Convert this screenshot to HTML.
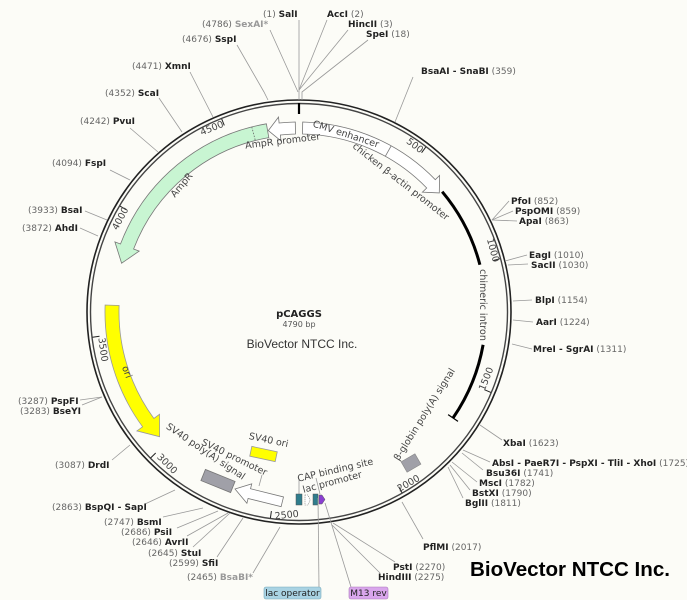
<!DOCTYPE html>
<html><head><meta charset="utf-8"><style>
html,body{margin:0;padding:0;background:#fcfcf7;}
svg{display:block;}
text{font-family:"DejaVu Sans","Liberation Sans",sans-serif;font-size:9px;fill:#222;}
.b{font-weight:bold;}
.n{fill:#666;font-weight:normal;}
.g{fill:#999;}
.f{font-size:9.5px;fill:#444;}
.ln{stroke:#999;stroke-width:0.8;fill:none;}
</style></head><body>
<svg width="687" height="600" viewBox="0 0 687 600" xmlns="http://www.w3.org/2000/svg">
<rect width="687" height="600" fill="#fcfcf7"/>
<circle cx="299" cy="312" r="212" fill="none" stroke="#222" stroke-width="1.6"/>
<circle cx="299" cy="312" r="208.5" fill="none" stroke="#444" stroke-width="1.4"/>
<line x1="299" y1="103" x2="299" y2="114" stroke="#000" stroke-width="2.2"/>

<g stroke="#222" stroke-width="1">
<line x1="425.8" y1="147.1" x2="421.6" y2="152.7"/>
<line x1="500" y1="258.7" x2="493.3" y2="260.5"/>
<line x1="490.9" y1="392.4" x2="484.4" y2="389.7"/>
<line x1="402" y1="492.7" x2="398.6" y2="486.6"/>
<line x1="270.4" y1="518" x2="271.4" y2="511.1"/>
<line x1="150.7" y1="457.9" x2="155.7" y2="453"/>
<line x1="92.5" y1="337.2" x2="99.5" y2="336.3"/>
<line x1="120" y1="206.1" x2="126" y2="209.7"/>
<line x1="221.7" y1="118.9" x2="224.3" y2="125.4"/>
</g>
<g class="f">
<text transform="translate(413,148) rotate(37)" text-anchor="middle" class="f">500</text>
<text transform="translate(490,251) rotate(75)" text-anchor="middle" class="f">1000</text>
<text transform="translate(489,380) rotate(-68)" text-anchor="middle" class="f">1500</text>
<text transform="translate(410,486) rotate(-30)" text-anchor="middle" class="f">2000</text>
<text transform="translate(287,518) rotate(-6)" text-anchor="middle" class="f">2500</text>
<text transform="translate(165,466) rotate(45)" text-anchor="middle" class="f">3000</text>
<text transform="translate(100,350) rotate(82)" text-anchor="middle" class="f">3500</text>
<text transform="translate(123,220) rotate(-62)" text-anchor="middle" class="f">4000</text>
<text transform="translate(213,131) rotate(-22)" text-anchor="middle" class="f">4500</text>
</g>

<path d="M266.4 123.8 A191 191 0 0 0 120.5 244 L114.9 241.9 L121.6 263.2 L139.2 251.1 L133.6 249 A177 177 0 0 1 268.8 137.6 Z" fill="#c8f5d2" stroke="#777" stroke-width="0.8"/>
<line x1="251.8" y1="126.9" x2="255.3" y2="140.5" stroke="#666" stroke-width="0.8" stroke-dasharray="1.5,1.5"/>
<path d="M295.3 122 A190 190 0 0 0 279.1 123 L278.5 117.1 L268.3 130.6 L281 140.9 L280.4 135 A178 178 0 0 1 295.5 134 Z" fill="#fff" stroke="#777" stroke-width="0.8"/>
<path d="M302.7 122 A190 190 0 0 1 435.3 179.7 L439.6 175.5 L439.3 192.9 L422.4 192.2 L426.7 188 A178 178 0 0 0 302.5 134 Z" fill="#fff" stroke="#777" stroke-width="0.8"/>
<line x1="391.2" y1="145.8" x2="385.3" y2="156.3" stroke="#777" stroke-width="0.8"/>
<path d="M442.2 191.7 A187 187 0 0 1 479.9 264.8" fill="none" stroke="#000" stroke-width="3"/>
<path d="M483.1 344.8 A187 187 0 0 1 453 418" fill="none" stroke="#000" stroke-width="3"/>
<line x1="448.1" y1="414.6" x2="458" y2="421.4" stroke="#000" stroke-width="1.2"/>
<path d="M105.1 305 A194 194 0 0 0 142.6 426.8 L136.9 430.9 L159.6 436.7 L159.5 414.3 L153.9 418.5 A180 180 0 0 1 119.1 305.5 Z" fill="#ffff00" stroke="#999" stroke-width="0.8"/>
<rect x="-8" y="-6" width="16" height="12" transform="translate(411,463) rotate(-30)" fill="#a0a0a8" stroke="#888" stroke-width="0.6"/>
<rect x="-13" y="-5" width="26" height="10" transform="translate(263.5,454) rotate(12)" fill="#ffff00" stroke="#999" stroke-width="0.8"/>
<rect x="-16" y="-6" width="32" height="12" transform="translate(218,481) rotate(22)" fill="#a0a0a8" stroke="#777" stroke-width="0.8"/>
<path d="M0 0 L15 -9 L15 -4 L49 -4 L49 6 L15 6 L15 11 Z" transform="translate(235,489) rotate(14)" fill="#fff" stroke="#777" stroke-width="0.8"/>
<line x1="262" y1="475" x2="259" y2="486" class="ln"/>
<line x1="299" y1="480" x2="299" y2="494" class="ln"/>
<line x1="316" y1="478" x2="320" y2="494" class="ln"/>
<rect x="296" y="494" width="6" height="11" fill="#2f7d8c" stroke="#555" stroke-width="0.5"/>
<path d="M305 495 L308 495 L310 500 L308 505 L305 505 Z" fill="#fff" stroke="#666" stroke-width="0.6" stroke-dasharray="1,1"/>
<rect x="313" y="494" width="5" height="11" fill="#2f7d8c" stroke="#555" stroke-width="0.5"/>
<path d="M319 495 L322 495 L325 499.5 L322 504 L319 504 Z" fill="#8a3fd1" stroke="#555" stroke-width="0.5"/>

<g class="f">
<text transform="translate(283,144) rotate(-7)" text-anchor="middle" class="f">AmpR promoter</text>
<text transform="translate(184,187) rotate(-50)" text-anchor="middle" class="f">AmpR</text>
<text transform="translate(345,137) rotate(18)" text-anchor="middle" class="f">CMV enhancer</text>
<text transform="translate(399,184) rotate(38)" text-anchor="middle" class="f">chicken β-actin promoter</text>
<text transform="translate(480,305) rotate(90)" text-anchor="middle" class="f">chimeric intron</text>
<text transform="translate(427,416) rotate(-58)" text-anchor="middle" class="f">β-globin poly(A) signal</text>
<text transform="translate(124,373) rotate(70)" text-anchor="middle" class="f">ori</text>
<text transform="translate(204,454) rotate(34)" text-anchor="middle" class="f">SV40 poly(A) signal</text>
<text transform="translate(233,460) rotate(26)" text-anchor="middle" class="f">SV40 promoter</text>
<text transform="translate(268,443) rotate(12)" text-anchor="middle" class="f">SV40 ori</text>
<text transform="translate(336,473) rotate(-13)" text-anchor="middle" class="f">CAP binding site</text>
<text transform="translate(333,485) rotate(-15)" text-anchor="middle" class="f">lac promoter</text>
</g>

<text x="299" y="317" text-anchor="middle" class="b" style="font-size:10px">pCAGGS</text>
<text x="299" y="327" text-anchor="middle" style="font-size:8px;fill:#555">4790 bp</text>
<text x="302" y="348" text-anchor="middle" style="font-family:'Liberation Sans',sans-serif;font-size:12px;fill:#333">BioVector NTCC Inc.</text>
<text x="470" y="576" style="font-family:'Liberation Sans',sans-serif;font-size:20.5px;font-weight:bold;fill:#000" textLength="200" lengthAdjust="spacingAndGlyphs">BioVector NTCC Inc.</text>

<g class="ln">
<path d="M299 100 L299 90 L299 20"/>
<path d="M299 90 L327 20"/>
<path d="M299 90 L348 30"/>
<path d="M302 100 L302 92 L368 40"/>
<path d="M298 92 L270 30"/>
<path d="M268 100 L264 92 L237 45"/>
<path d="M213 117 L190 72"/>
<path d="M182 132 L159 98"/>
<path d="M158 152 L130 128"/>
<path d="M130 180 L110 170"/>
<path d="M107 220 L85 211"/>
<path d="M98 236 L80 228"/>
<path d="M102 397 L80 400"/>
<path d="M102 397 L82 405"/>
<path d="M130 445 L112 460"/>
<path d="M175 490 L145 504"/>
<path d="M203 508 L163 517"/>
<path d="M218 511 L177 528"/>
<path d="M228 513 L187 536"/>
<path d="M230 513 L193 547"/>
<path d="M243 518 L217 557"/>
<path d="M280 527 L253 573"/>
<path d="M318 498 L319 587"/>
<path d="M325 503 L351 587"/>
<path d="M333 523 L395 562"/>
<path d="M332 525 L380 573"/>
<path d="M402 502 L423 539"/>
<path d="M480 425 L502 440"/>
<path d="M463 450 L490 462"/>
<path d="M462 453 L483 470"/>
<path d="M452 462 L477 482"/>
<path d="M450 465 L470 490"/>
<path d="M448 467 L463 498"/>
<path d="M492 220 L509 201"/>
<path d="M492 220 L513 211"/>
<path d="M492 220 L517 221"/>
<path d="M505 261 L527 255"/>
<path d="M508 265 L528 264"/>
<path d="M513 301 L532 300"/>
<path d="M513 320 L533 322"/>
<path d="M512 344 L532 349"/>
<path d="M395 122 L413 77"/>
</g>

<text x="263" y="17"><tspan class="n">(1)</tspan> <tspan class="b">SalI</tspan></text>
<text x="327" y="17"><tspan class="b">AccI</tspan> <tspan class="n">(2)</tspan></text>
<text x="348" y="27"><tspan class="b">HincII</tspan> <tspan class="n">(3)</tspan></text>
<text x="366" y="37"><tspan class="b">SpeI</tspan> <tspan class="n">(18)</tspan></text>
<text x="202" y="27"><tspan class="n">(4786)</tspan> <tspan class="b g">SexAI*</tspan></text>
<text x="182" y="42"><tspan class="n">(4676)</tspan> <tspan class="b">SspI</tspan></text>
<text x="132" y="69"><tspan class="n">(4471)</tspan> <tspan class="b">XmnI</tspan></text>
<text x="105" y="96"><tspan class="n">(4352)</tspan> <tspan class="b">ScaI</tspan></text>
<text x="80" y="124"><tspan class="n">(4242)</tspan> <tspan class="b">PvuI</tspan></text>
<text x="52" y="166"><tspan class="n">(4094)</tspan> <tspan class="b">FspI</tspan></text>
<text x="28" y="213"><tspan class="n">(3933)</tspan> <tspan class="b">BsaI</tspan></text>
<text x="22" y="231"><tspan class="n">(3872)</tspan> <tspan class="b">AhdI</tspan></text>
<text x="18" y="404"><tspan class="n">(3287)</tspan> <tspan class="b">PspFI</tspan></text>
<text x="20" y="414"><tspan class="n">(3283)</tspan> <tspan class="b">BseYI</tspan></text>
<text x="55" y="468"><tspan class="n">(3087)</tspan> <tspan class="b">DrdI</tspan></text>
<text x="52" y="510"><tspan class="n">(2863)</tspan> <tspan class="b">BspQI - SapI</tspan></text>
<text x="104" y="525"><tspan class="n">(2747)</tspan> <tspan class="b">BsmI</tspan></text>
<text x="121" y="535"><tspan class="n">(2686)</tspan> <tspan class="b">PsiI</tspan></text>
<text x="132" y="545"><tspan class="n">(2646)</tspan> <tspan class="b">AvrII</tspan></text>
<text x="148" y="556"><tspan class="n">(2645)</tspan> <tspan class="b">StuI</tspan></text>
<text x="169" y="566"><tspan class="n">(2599)</tspan> <tspan class="b">SfiI</tspan></text>
<text x="187" y="580"><tspan class="n">(2465)</tspan> <tspan class="b g">BsaBI*</tspan></text>
<rect x="264" y="587" width="57" height="12" rx="2" fill="#a9d3e3" stroke="#7ab" stroke-width="0.6"/>
<text x="292.5" y="596" text-anchor="middle" style="fill:#222">lac operator</text>
<rect x="349" y="587" width="39" height="12" rx="2" fill="#d9a6ec" stroke="#a7b" stroke-width="0.6"/>
<text x="368.5" y="596" text-anchor="middle" style="fill:#222">M13 rev</text>
<text x="393" y="570"><tspan class="b">PstI</tspan> <tspan class="n">(2270)</tspan></text>
<text x="378" y="580"><tspan class="b">HindIII</tspan> <tspan class="n">(2275)</tspan></text>
<text x="423" y="550"><tspan class="b">PflMI</tspan> <tspan class="n">(2017)</tspan></text>
<text x="503" y="446"><tspan class="b">XbaI</tspan> <tspan class="n">(1623)</tspan></text>
<text x="492" y="466"><tspan class="b">AbsI - PaeR7I - PspXI - TliI - XhoI</tspan> <tspan class="n">(1725)</tspan></text>
<text x="486" y="476"><tspan class="b">Bsu36I</tspan> <tspan class="n">(1741)</tspan></text>
<text x="479" y="486"><tspan class="b">MscI</tspan> <tspan class="n">(1782)</tspan></text>
<text x="472" y="496"><tspan class="b">BstXI</tspan> <tspan class="n">(1790)</tspan></text>
<text x="465" y="506"><tspan class="b">BglII</tspan> <tspan class="n">(1811)</tspan></text>
<text x="511" y="204"><tspan class="b">PfoI</tspan> <tspan class="n">(852)</tspan></text>
<text x="515" y="214"><tspan class="b">PspOMI</tspan> <tspan class="n">(859)</tspan></text>
<text x="519" y="224"><tspan class="b">ApaI</tspan> <tspan class="n">(863)</tspan></text>
<text x="529" y="258"><tspan class="b">EagI</tspan> <tspan class="n">(1010)</tspan></text>
<text x="531" y="268"><tspan class="b">SacII</tspan> <tspan class="n">(1030)</tspan></text>
<text x="535" y="303"><tspan class="b">BlpI</tspan> <tspan class="n">(1154)</tspan></text>
<text x="536" y="325"><tspan class="b">AarI</tspan> <tspan class="n">(1224)</tspan></text>
<text x="533" y="352"><tspan class="b">MreI - SgrAI</tspan> <tspan class="n">(1311)</tspan></text>
<text x="421" y="74"><tspan class="b">BsaAI - SnaBI</tspan> <tspan class="n">(359)</tspan></text>
</svg>
</body></html>
